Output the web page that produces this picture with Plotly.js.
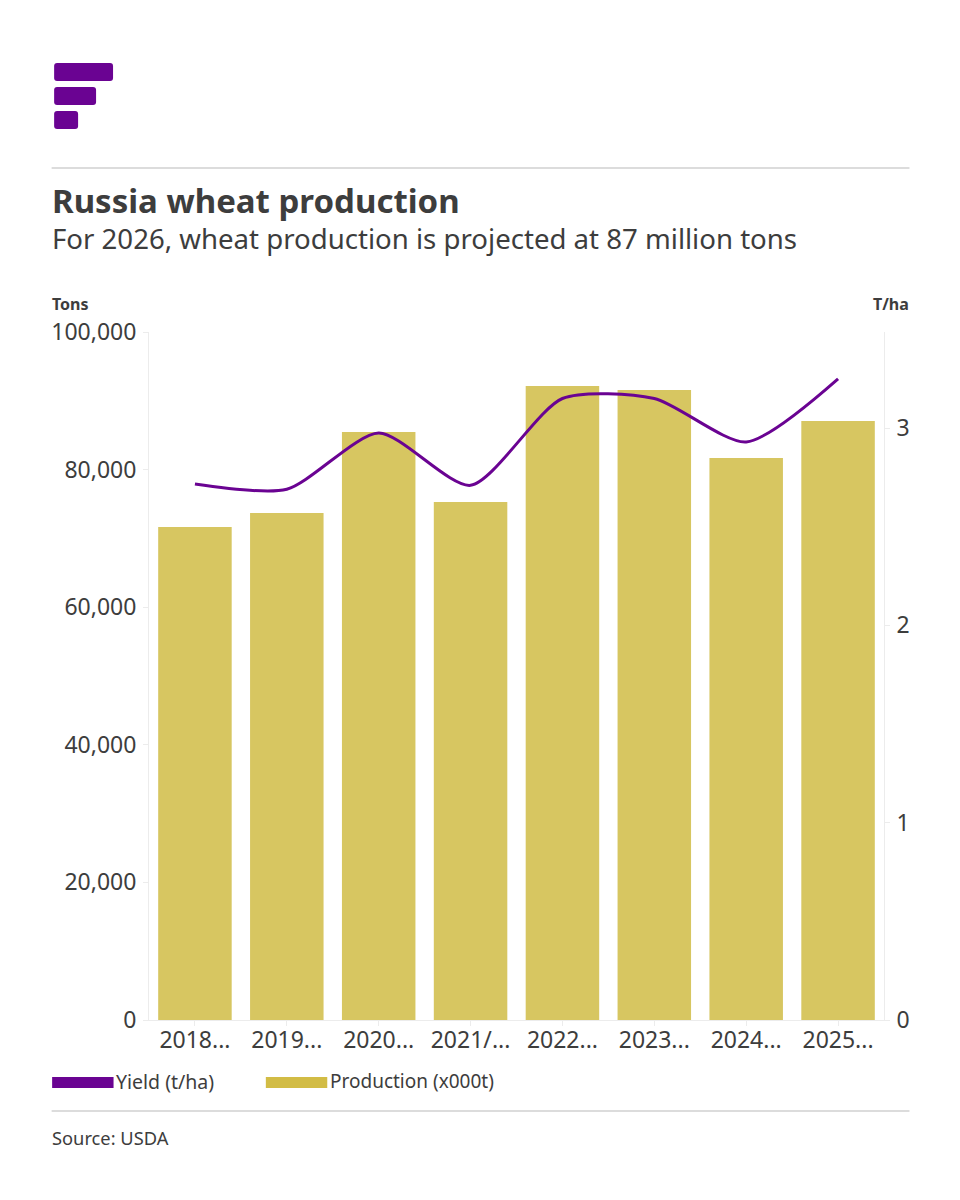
<!DOCTYPE html>
<html><head><meta charset="utf-8">
<script src="https://cdn.plot.ly/plotly-3.0.1.min.js"></script>
<style>html,body{margin:0;padding:0;background:#fff}#c{width:960px;height:1200px}</style>
</head><body><div id="c"></div>
<script>
const categories = ["2018/19","2019/20","2020/21","2021/22","2022/23","2023/24","2024/25","2025/26"];
const tickLabels = ["2018...","2019...","2020...","2021/...","2022...","2023...","2024...","2025..."];
const production = [71660,73700,85460,75290,92150,91570,81690,87060];
const yieldTha = [2.717,2.69,2.975,2.71,3.15,3.15,2.93,3.25];
const leftTicks = [0,20000,40000,60000,80000,100000];
const rightTicks = [0,1,2,3];

const FONT = "'Noto Sans', sans-serif", INK = "#3d3d3d", PURPLE = "#6a0392", GOLD = "#d7c661", RULE = "#dcdcdc", AX = "#ececec";
const W = 960, H = 1200, L = 148.5, T = 332, PW = 736, PH = 688;
const px = x => (x - L) / PW, py = y => (T + PH - y) / PH;

function rrect(x0, y0, x1, y1, r) {
  const X0 = px(x0), X1 = px(x1), Y0 = py(y0), Y1 = py(y1), rx = r / PW, ry = r / PH;
  return `M${X0 + rx},${Y0} L${X1 - rx},${Y0} Q${X1},${Y0} ${X1},${Y0 - ry} L${X1},${Y1 + ry} Q${X1},${Y1} ${X1 - rx},${Y1} L${X0 + rx},${Y1} Q${X0},${Y1} ${X0},${Y1 + ry} L${X0},${Y0 - ry} Q${X0},${Y0} ${X0 + rx},${Y0} Z`;
}
const paperShape = o => Object.assign({xref: "paper", yref: "paper"}, o);
const logo = [[53.5,63,112.5,81],[53.5,87,95.5,105],[53.5,111,77.5,129]].map(b =>
  paperShape({type: "path", path: rrect(b[0], b[1], b[2], b[3], 3), fillcolor: PURPLE, line: {width: 0}}));
const hline = y => paperShape({type: "line", x0: px(51), x1: px(910), y0: py(y), y1: py(y), line: {color: RULE, width: 2}});
const swatch = (x0, x1, color) => paperShape({type: "rect", x0: px(x0), x1: px(x1), y0: py(1077), y1: py(1088), fillcolor: color, line: {width: 0}});

const label = (text, x, y, size, anchor, bold) => ({
  text: bold ? `<b>${text}</b>` : text, xref: "paper", yref: "paper", x: px(x), y: py(y),
  xanchor: anchor || "left", yanchor: "middle", showarrow: false, borderpad: 0,
  font: {family: FONT, size: size, color: INK}
});

const traces = [
  {type: "bar", name: "Production (x000t)", x: categories, y: production, marker: {color: GOLD}, xaxis: "x", yaxis: "y"},
  {type: "scatter", mode: "lines", name: "Yield (t/ha)", x: categories, y: yieldTha,
   line: {color: PURPLE, width: 3, shape: "spline", smoothing: 0.7}, xaxis: "x", yaxis: "y2"}
];

const axisBase = {showgrid: false, zeroline: false, showline: true, linecolor: AX, linewidth: 1,
  ticks: "outside", ticklen: 5, tickcolor: AX, tickfont: {family: FONT, size: 23, color: INK}};

const layout = {
  width: W, height: H, showlegend: false, bargap: 0.2,
  paper_bgcolor: "#fff", plot_bgcolor: "#fff",
  margin: {l: L, r: W - L - PW, t: T, b: H - T - PH, pad: 0},
  font: {family: FONT, color: INK},
  xaxis: Object.assign({type: "category", tickmode: "array", tickvals: categories, ticktext: tickLabels, tickangle: 0, range: [-0.5, 7.5], ticklabelstandoff: -6}, axisBase),
  yaxis: Object.assign({range: [0, 100000], tickmode: "array", tickvals: leftTicks, tickformat: ",d", ticklabelstandoff: 2}, axisBase),
  yaxis2: Object.assign({range: [0, 3.487], overlaying: "y", side: "right", tickmode: "array", tickvals: rightTicks, ticklabelstandoff: 2}, axisBase),
  shapes: [...logo, hline(168), hline(1111), swatch(51.5, 113, PURPLE), swatch(265.5, 327, "#d2bc45")],
  annotations: [
    label("Russia wheat production", 50, 200, 33, "left", true),
    label("For 2026, wheat production is projected at 87 million tons", 50, 238, 27.6),
    label("Tons", 50, 304, 16, "left", true),
    label("T/ha", 911, 304, 16, "right", true),
    label("Yield (t/ha)", 114, 1081, 19.5),
    label("Production (x000t)", 329, 1081, 19),
    label("Source: USDA", 50, 1137, 18.3)
  ]
};
Plotly.newPlot("c", traces, layout, {displayModeBar: false, responsive: false});
</script></body></html>
